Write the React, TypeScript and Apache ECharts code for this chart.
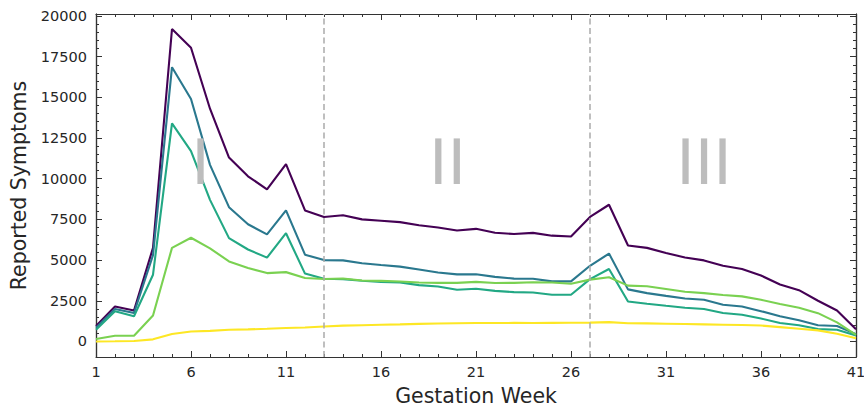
import React, { useEffect, useRef } from "react";
import * as echarts from "echarts";

const weeks = Array.from({ length: 41 }, (_, i) => i + 1);

const seriesNames = ["S1", "S2", "S3", "S4", "S5"];
const seriesColors = ["#440154", "#2a788e", "#22a884", "#7ad151", "#fde725"];

const s1 = [950, 2150, 1900, 5750, 19200, 18050, 14300, 11300, 10150, 9350, 10900, 8050, 7650, 7750, 7500, 7420, 7330, 7140, 7000, 6820, 6920, 6680, 6600, 6670, 6500, 6450, 7650, 8400, 5900, 5750, 5430, 5160, 4980, 4650, 4450, 4050, 3500, 3150, 2500, 1900, 750];
const s2 = [850, 2000, 1750, 5300, 16850, 14900, 10850, 8250, 7200, 6580, 8050, 5330, 5000, 4980, 4810, 4700, 4600, 4420, 4240, 4120, 4130, 3970, 3860, 3850, 3690, 3690, 4650, 5400, 3200, 2970, 2800, 2640, 2560, 2260, 2150, 1860, 1550, 1300, 1000, 950, 450];
const s3 = [720, 1850, 1550, 4100, 13400, 11700, 8700, 6350, 5650, 5150, 6650, 4170, 3850, 3830, 3730, 3650, 3620, 3460, 3380, 3180, 3240, 3110, 3030, 3010, 2870, 2870, 3830, 4450, 2460, 2320, 2190, 2070, 1990, 1750, 1640, 1410, 1130, 1000, 760, 720, 370];
const s4 = [150, 350, 350, 1600, 5750, 6370, 5720, 4920, 4520, 4200, 4260, 3900, 3840, 3870, 3750, 3720, 3680, 3620, 3600, 3600, 3660, 3590, 3600, 3640, 3620, 3550, 3800, 3950, 3430, 3390, 3220, 3050, 2970, 2850, 2770, 2560, 2300, 2070, 1740, 1170, 410];
const s5 = [0, 10, 30, 130, 460, 610, 650, 720, 740, 780, 830, 860, 920, 970, 1000, 1030, 1050, 1080, 1100, 1120, 1130, 1130, 1140, 1130, 1140, 1150, 1160, 1190, 1120, 1110, 1090, 1070, 1050, 1030, 1010, 980, 880, 780, 680, 470, 200];
const allSeries = [s1, s2, s3, s4, s5];

const yMajorTicks = [0, 2500, 5000, 7500, 10000, 12500, 15000, 17500, 20000];
const yMinorTicks = Array.from({ length: 41 }, (_, i) => i * 500);

const trimesterBoundaries = [13, 27];
const trimesterLabels = ["I", "II", "III"];
const trimesterLabelWeeks = [6.5, 19.5, 33];
const trimesterLabelValue = 11000;

const Y_MIN = -955;
const Y_MAX = 20120;
const FONT = "DejaVu Sans";
const AXIS_COLOR = "#333333";
const TEXT_COLOR = "#262626";

export default function App() {
  const ref = useRef<HTMLDivElement>(null);

  useEffect(() => {
    if (!ref.current) return;
    const chart = echarts.init(ref.current, undefined, { renderer: "svg" });

    const xAxisBase = (pos: "bottom" | "top", withLabels: boolean) => ({
      type: "value",
      position: pos,
      min: 1,
      max: 41,
      interval: 5,
      axisLine: { show: true, onZero: false, lineStyle: { color: AXIS_COLOR, width: 1.2 } },
      axisTick: { show: true, inside: true, length: 6, lineStyle: { color: AXIS_COLOR, width: 1 } },
      minorTick: { show: true, splitNumber: 5, length: 3, lineStyle: { color: AXIS_COLOR, width: 1 } },
      splitLine: { show: false },
      minorSplitLine: { show: false },
      axisLabel: {
        show: withLabels,
        formatter: (v: number) => String(v),
        fontSize: 14.5,
        fontFamily: FONT,
        color: TEXT_COLOR,
        margin: 7,
      },
      ...(withLabels
        ? {
            name: "Gestation Week",
            nameLocation: "middle",
            nameGap: 29,
            nameTextStyle: { fontSize: 20.5, lineHeight: 20, fontFamily: FONT, color: TEXT_COLOR },
          }
        : {}),
    });

    const yAxisBase = (pos: "left" | "right", ticks: number[], len: number, withLabels: boolean) => ({
      type: "value",
      position: pos,
      min: Y_MIN,
      max: Y_MAX,
      axisLine: { show: true, onZero: false, lineStyle: { color: AXIS_COLOR, width: 1.2 } },
      axisTick: { show: true, inside: true, length: len, customValues: ticks, lineStyle: { color: AXIS_COLOR, width: 1 } },
      splitLine: { show: false },
      axisLabel: {
        show: withLabels,
        customValues: yMajorTicks,
        formatter: (v: number) => String(v),
        fontSize: 14.5,
        fontFamily: FONT,
        color: TEXT_COLOR,
        margin: 9,
      },
      ...(withLabels
        ? {
            name: "Reported Symptoms",
            nameLocation: "middle",
            nameGap: 61,
            nameTextStyle: { fontSize: 20.5, fontFamily: FONT, color: TEXT_COLOR },
          }
        : {}),
    });

    const series: any[] = allSeries.map((vals, i) => ({
      name: seriesNames[i],
      type: "line",
      xAxisIndex: 0,
      yAxisIndex: 0,
      data: weeks.map((w, j) => [w, vals[j]]),
      symbol: "none",
      showSymbol: false,
      lineStyle: { color: seriesColors[i], width: 2.1 },
      itemStyle: { color: seriesColors[i] },
      z: 3,
    }));

    series.push({
      name: "annotations",
      type: "line",
      xAxisIndex: 0,
      yAxisIndex: 0,
      data: [],
      symbol: "none",
      z: 2,
      markLine: {
        silent: true,
        symbol: ["none", "none"],
        label: { show: false },
        lineStyle: { color: "#aaaaaa", type: [6, 3.5], width: 1.5 },
        data: trimesterBoundaries.map((w) => ({ xAxis: w })),
      },
      markPoint: {
        silent: true,
        symbol: "rect",
        symbolSize: 0,
        label: {
          show: true,
          position: "inside",
          formatter: (p: any) => p.name,
          fontSize: 63,
          fontFamily: FONT,
          color: "#bdbdbd",
        },
        data: trimesterLabels.map((t, i) => ({
          name: t,
          coord: [trimesterLabelWeeks[i], trimesterLabelValue],
        })),
      },
    });

    chart.setOption({
      animation: false,
      backgroundColor: "#ffffff",
      grid: { left: 96, right: 8, top: 14, bottom: 51, containLabel: false, outerBoundsMode: "none" },
      xAxis: [xAxisBase("bottom", true), xAxisBase("top", false)],
      yAxis: [
        yAxisBase("left", yMajorTicks, 6, true),
        yAxisBase("left", yMinorTicks, 3, false),
        yAxisBase("right", yMajorTicks, 6, false),
        yAxisBase("right", yMinorTicks, 3, false),
      ],
      series,
    });

    return () => chart.dispose();
  }, []);

  return (
    <div
      ref={ref}
      style={{ position: "fixed", left: 0, top: 0, width: 864, height: 408, background: "#fff" }}
    />
  );
}
